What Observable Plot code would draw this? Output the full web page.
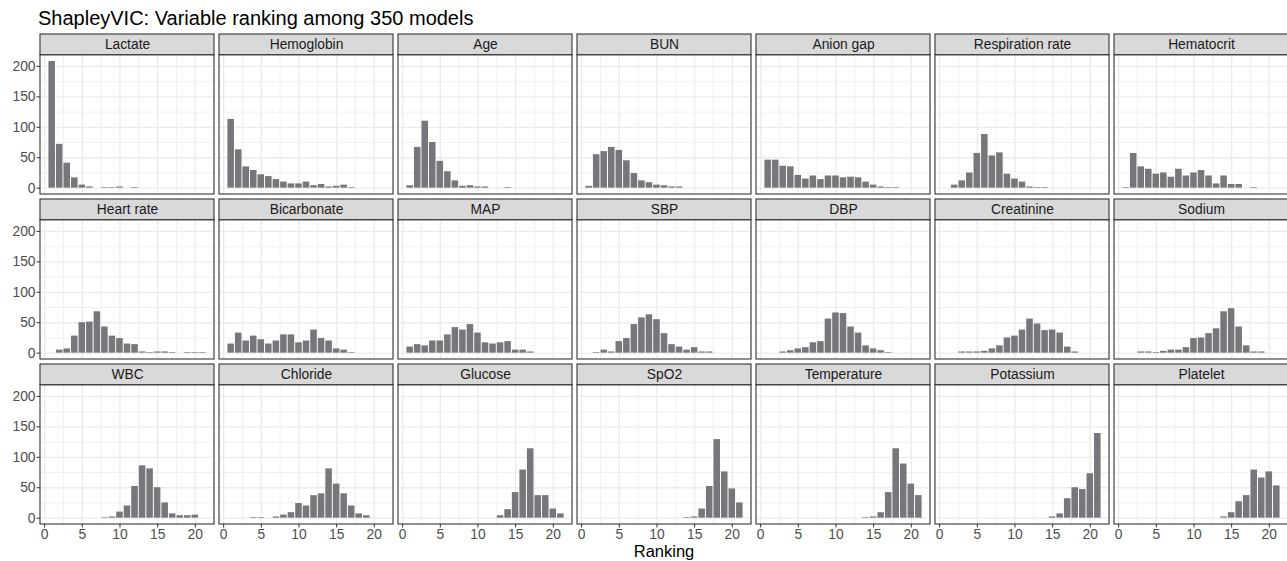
<!DOCTYPE html>
<html>
<head>
<meta charset="utf-8">
<script src="https://cdn.jsdelivr.net/npm/d3@7"></script>
<script src="https://cdn.jsdelivr.net/npm/@observablehq/plot@0.6"></script>
<style>
  html, body { margin: 0; padding: 0; overflow: hidden; background: #fff; }
  #wrap { position: relative; width: 1287px; height: 561px; overflow: hidden; font-family: "Liberation Sans", Arial, sans-serif; }
  #title { position: absolute; left: 38px; top: 8px; font-size: 20px; line-height: 20px; color: #000; white-space: nowrap; }
  #xlabel { position: absolute; left: 0; width: 1328px; text-align: center; top: 543px; font-size: 16.5px; line-height: 16px; color: #000; }
  #chart { position: absolute; left: 0; top: 0; width: 1293px; }
  #chart svg { max-width: none !important; }
</style>
</head>
<body>
<div id="wrap">
  <div id="chart"></div>
  <div id="title">ShapleyVIC: Variable ranking among 350 models</div>
  <div id="xlabel">Ranking</div>
</div>
<script>
// ---- Data: number of models (out of 350) giving each variable each ranking ----
const ranks = [1,2,3,4,5,6,7,8,9,10,11,12,13,14,15,16,17,18,19,20,21];

const names = ["Lactate","Hemoglobin","Age","BUN","Anion gap","Respiration rate","Hematocrit",
               "Heart rate","Bicarbonate","MAP","SBP","DBP","Creatinine","Sodium",
               "WBC","Chloride","Glucose","SpO2","Temperature","Potassium","Platelet"];

const lactate      = [208,72,41,17,5,2,0,1,1,2,0,1,0,0,0,0,0,0,0,0,0];
const hemoglobin   = [113,63,35,29,22,19,14,10,7,7,10,4,6,2,3,5,1,0,0,0,0];
const age          = [4,67,110,75,44,27,12,3,4,2,2,0,0,1,0,0,0,0,0,0,0];
const bun          = [3,55,60,67,62,45,24,12,9,5,4,2,2,0,0,0,0,0,0,0,0];
const anionGap     = [46,46,36,35,21,15,20,14,20,20,17,18,17,10,5,2,1,1,0,0,0];
const respiration  = [0,5,12,25,57,88,53,58,23,15,10,2,1,1,0,0,0,0,0,0,0];
const hematocrit   = [1,57,35,31,23,25,18,31,20,25,29,20,7,20,6,6,0,1,0,0,0];
const heartRate    = [0,5,7,28,50,51,68,43,28,24,15,14,2,1,2,2,1,0,1,1,1];
const bicarbonate  = [15,33,20,28,22,15,20,30,30,17,20,38,24,20,7,5,1,0,0,0,0];
const map          = [10,14,12,20,20,30,42,38,47,33,17,15,17,19,5,5,2,0,0,0,0];
const sbp          = [0,1,5,2,19,24,47,58,63,55,32,14,10,5,9,2,2,0,0,0,0];
const dbp          = [0,0,2,4,7,9,17,19,56,66,65,43,33,12,7,4,1,0,0,0,0];
const creatinine   = [0,0,2,2,2,3,7,12,25,28,38,56,48,37,38,33,10,2,0,0,0];
const sodium       = [0,0,2,2,1,3,5,5,9,24,25,32,40,68,73,43,12,2,2,0,0];
const wbc          = [0,0,0,0,0,0,0,1,2,10,20,52,86,81,50,25,7,4,4,5,0];
const chloride     = [0,0,0,1,1,0,2,5,9,24,20,37,40,81,56,40,20,7,4,0,0];
const glucose      = [0,0,0,0,0,0,0,0,0,0,0,0,4,14,42,79,114,37,37,15,7];
const spo2         = [0,0,0,0,0,0,0,0,0,0,0,0,0,1,2,15,52,129,76,48,25];
const temperature  = [0,0,0,0,0,0,0,0,0,0,0,0,0,1,2,9,42,114,89,56,37];
const potassium    = [0,0,0,0,0,0,0,0,0,0,0,0,0,0,2,7,32,50,47,73,139];
const platelet     = [0,0,0,0,0,0,0,0,0,0,0,0,0,2,9,27,37,79,66,76,53];

const series = [lactate, hemoglobin, age, bun, anionGap, respiration, hematocrit,
                heartRate, bicarbonate, map, sbp, dbp, creatinine, sodium,
                wbc, chloride, glucose, spo2, temperature, potassium, platelet];

const xTicks = [0, 5, 10, 15, 20];
const yTicks = [0, 50, 100, 150, 200];

// ---- Build tables ----
const NCOL = 7;
const panels = names.map((name, i) => ({name, col: i % NCOL, row: Math.floor(i / NCOL)}));
const bars = panels.flatMap((p, i) =>
  series[i].map((count, j) => ({...p, rank: ranks[j], count}))
).filter(d => d.count > 0);

const maxCount = d3.max(bars, d => d.count);
const xLo = 0.5 - 0.05 * 21, xHi = 21.5 + 0.05 * 21;
const yLo = -0.05 * maxCount, yHi = maxCount * 1.05;
const stripH = 34;          // strip height in data units (above the panel)
const yTop = yHi + stripH;

const xGrid = d3.range(0, 22.6, 2.5);
const yGrid = d3.range(0, yHi, 25);

const chart = Plot.plot({
  width: 1293,
  height: 561,
  marginLeft: 37.3,
  marginRight: 2.3,
  marginTop: 34,
  marginBottom: 36,
  style: {fontFamily: "'Liberation Sans', Arial, sans-serif", background: "white", maxWidth: "none"},
  fx: {domain: d3.range(NCOL), paddingInner: 0.026, paddingOuter: 0, axis: null},
  fy: {domain: [0, 1, 2], paddingInner: 0.03, paddingOuter: 0, axis: null},
  x: {domain: [xLo, xHi]},
  y: {domain: [yLo, yTop]},
  marks: [
    // grid (minor then major)
    Plot.ruleX(xGrid.filter(v => v % 5 !== 0), {y1: yLo, y2: yHi, stroke: "#EBEBEB", strokeWidth: 0.7}),
    Plot.ruleY(yGrid.filter(v => v % 50 !== 0), {x1: xLo, x2: xHi, stroke: "#EBEBEB", strokeWidth: 0.7}),
    Plot.ruleX(xGrid.filter(v => v % 5 === 0), {y1: yLo, y2: yHi, stroke: "#EBEBEB", strokeWidth: 1.3}),
    Plot.ruleY(yGrid.filter(v => v % 50 === 0), {x1: xLo, x2: xHi, stroke: "#EBEBEB", strokeWidth: 1.3}),
    // histogram bars
    Plot.rectY(bars, {
      x1: d => d.rank - 0.5, x2: d => d.rank + 0.5, y: "count",
      fx: "col", fy: "row", fill: "#77777B", insetLeft: 0.5, insetRight: 0.5
    }),
    // panel border
    Plot.rect(panels, {x1: xLo, x2: xHi, y1: yLo, y2: yHi, fx: "col", fy: "row",
      fill: "none", stroke: "#333333", strokeWidth: 1.1}),
    // strip
    Plot.rect(panels, {x1: xLo, x2: xHi, y1: yHi, y2: yTop, fx: "col", fy: "row",
      fill: "#D9D9D9", stroke: "#333333", strokeWidth: 1.1}),
    Plot.text(panels, {x: (xLo + xHi) / 2, y: yHi + stripH / 2, text: "name", fx: "col", fy: "row",
      fontSize: 13.8, fill: "#1A1A1A"}),
    // axes
    Plot.axisY(yTicks, {anchor: "left", facetAnchor: "left", tickSize: 3.5, tickPadding: 1.5,
      fontSize: 13.8, stroke: "#333333", fill: "#4D4D4D", label: null}),
    Plot.axisX(xTicks, {anchor: "bottom", facetAnchor: "bottom", tickSize: 3.5, tickPadding: 1.5,
      fontSize: 13.8, stroke: "#333333", fill: "#4D4D4D", label: null})
  ]
});

document.getElementById("chart").appendChild(chart);
</script>
</body>
</html>
